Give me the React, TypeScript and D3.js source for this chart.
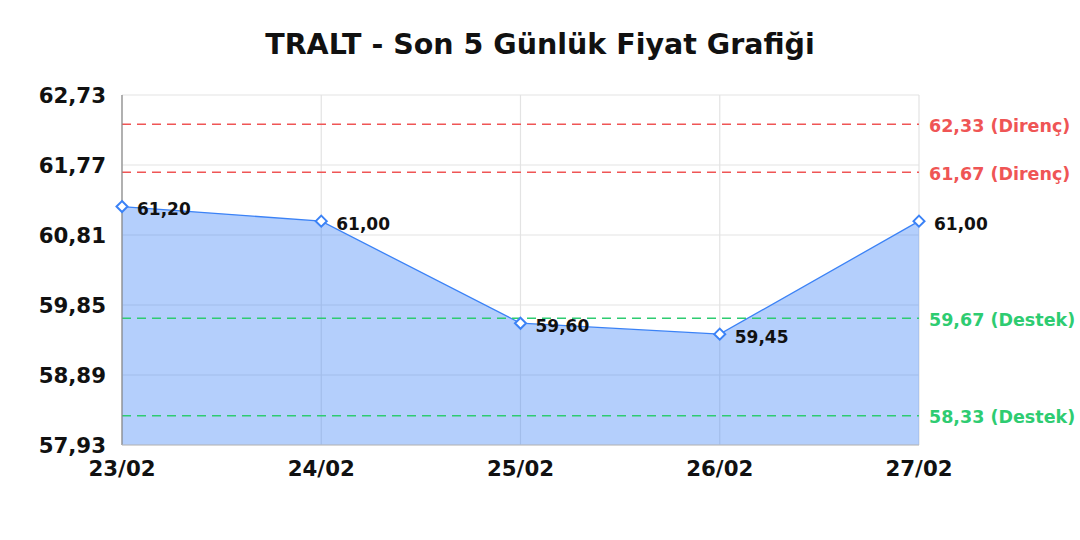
import * as React from 'react';
import * as d3 from 'd3';

const dates = ['23/02', '24/02', '25/02', '26/02', '27/02'];
const prices = [61.2, 61.0, 59.6, 59.45, 61.0];
const yTicks = [57.93, 58.89, 59.85, 60.81, 61.77, 62.73];
const resistance = [62.33, 61.67];
const support = [59.67, 58.33];

const W = 1080;
const H = 540;
const margin = {top: 95, right: 161, bottom: 95, left: 122};
const font = '"DejaVu Sans", sans-serif';
const fmt = (v: number) => v.toFixed(2).replace('.', ',');

export default function App() {
  const x = d3.scalePoint<string>().domain(dates).range([margin.left, W - margin.right]);
  const y = d3.scaleLinear().domain([57.93, 62.73]).range([H - margin.bottom, margin.top]);

  const pts = dates.map((d, i) => ({d, v: prices[i]}));
  const line = d3.line<{d: string, v: number}>().x(p => x(p.d)!).y(p => y(p.v));
  const area = d3.area<{d: string, v: number}>().x(p => x(p.d)!).y0(y(57.93)).y1(p => y(p.v));

  const x0 = margin.left;
  const x1 = W - margin.right;

  return (
    <svg width={W} height={H} style={{position: 'fixed', left: 0, top: 0}} fontFamily={font}>
      <rect width={W} height={H} fill="#fff"/>
      <text x={540} y={54} textAnchor="middle" fontSize={28.5} fontWeight="bold" fill="#111">
        TRALT - Son 5 Günlük Fiyat Grafiği
      </text>

      {yTicks.map(t => (
        <line key={t} x1={x0} x2={x1} y1={y(t)} y2={y(t)} stroke="#e3e3e3" strokeWidth={1.2}/>
      ))}
      {dates.map(d => (
        <line key={d} x1={x(d)} x2={x(d)} y1={margin.top} y2={H - margin.bottom} stroke="#e3e3e3" strokeWidth={1.2}/>
      ))}

      <path d={area(pts)!} fill="rgba(59,130,246,0.38)"/>
      <path d={line(pts)!} fill="none" stroke="#3b82f6" strokeWidth={1.3}/>

      {resistance.map(r => (
        <g key={r}>
          <line x1={x0} x2={x1} y1={y(r)} y2={y(r)} stroke="#ef5555" strokeWidth={1.5} strokeDasharray="9,6"/>
          <text x={x1 + 10} y={y(r) + 1} dy="0.38em" fontSize={17.5} fontWeight="bold" fill="#ef5555">
            {fmt(r)} (Direnç)
          </text>
        </g>
      ))}
      {support.map(s => (
        <g key={s}>
          <line x1={x0} x2={x1} y1={y(s)} y2={y(s)} stroke="#2ecc71" strokeWidth={1.5} strokeDasharray="9,6"/>
          <text x={x1 + 10} y={y(s) + 1} dy="0.38em" fontSize={17.5} fontWeight="bold" fill="#2ecc71">
            {fmt(s)} (Destek)
          </text>
        </g>
      ))}

      <line x1={x0} x2={x0} y1={margin.top} y2={H - margin.bottom} stroke="#888" strokeWidth={1.2}/>
      <line x1={x0} x2={x1} y1={H - margin.bottom} y2={H - margin.bottom} stroke="#bbb" strokeWidth={1}/>

      {pts.map(p => {
        const cx = x(p.d)!;
        const cy = y(p.v);
        return (
          <g key={p.d}>
            <path d={`M${cx},${cy - 5.5}L${cx + 5.5},${cy}L${cx},${cy + 5.5}L${cx - 5.5},${cy}Z`}
              fill="#fff" stroke="#3b82f6" strokeWidth={2}/>
            <text x={cx + 15} y={cy + 2} dy="0.38em" fontSize={17} fontWeight="bold" fill="#111">
              {fmt(p.v)}
            </text>
          </g>
        );
      })}

      {yTicks.map(t => (
        <text key={t} x={x0 - 16} y={y(t)} dy="0.36em" textAnchor="end" fontSize={21.3} fontWeight="bold" fill="#111">
          {fmt(t)}
        </text>
      ))}
      {dates.map(d => (
        <text key={d} x={x(d)} y={H - margin.bottom + 31} textAnchor="middle" fontSize={21.3} fontWeight="bold" fill="#111">
          {d}
        </text>
      ))}
    </svg>
  );
}
